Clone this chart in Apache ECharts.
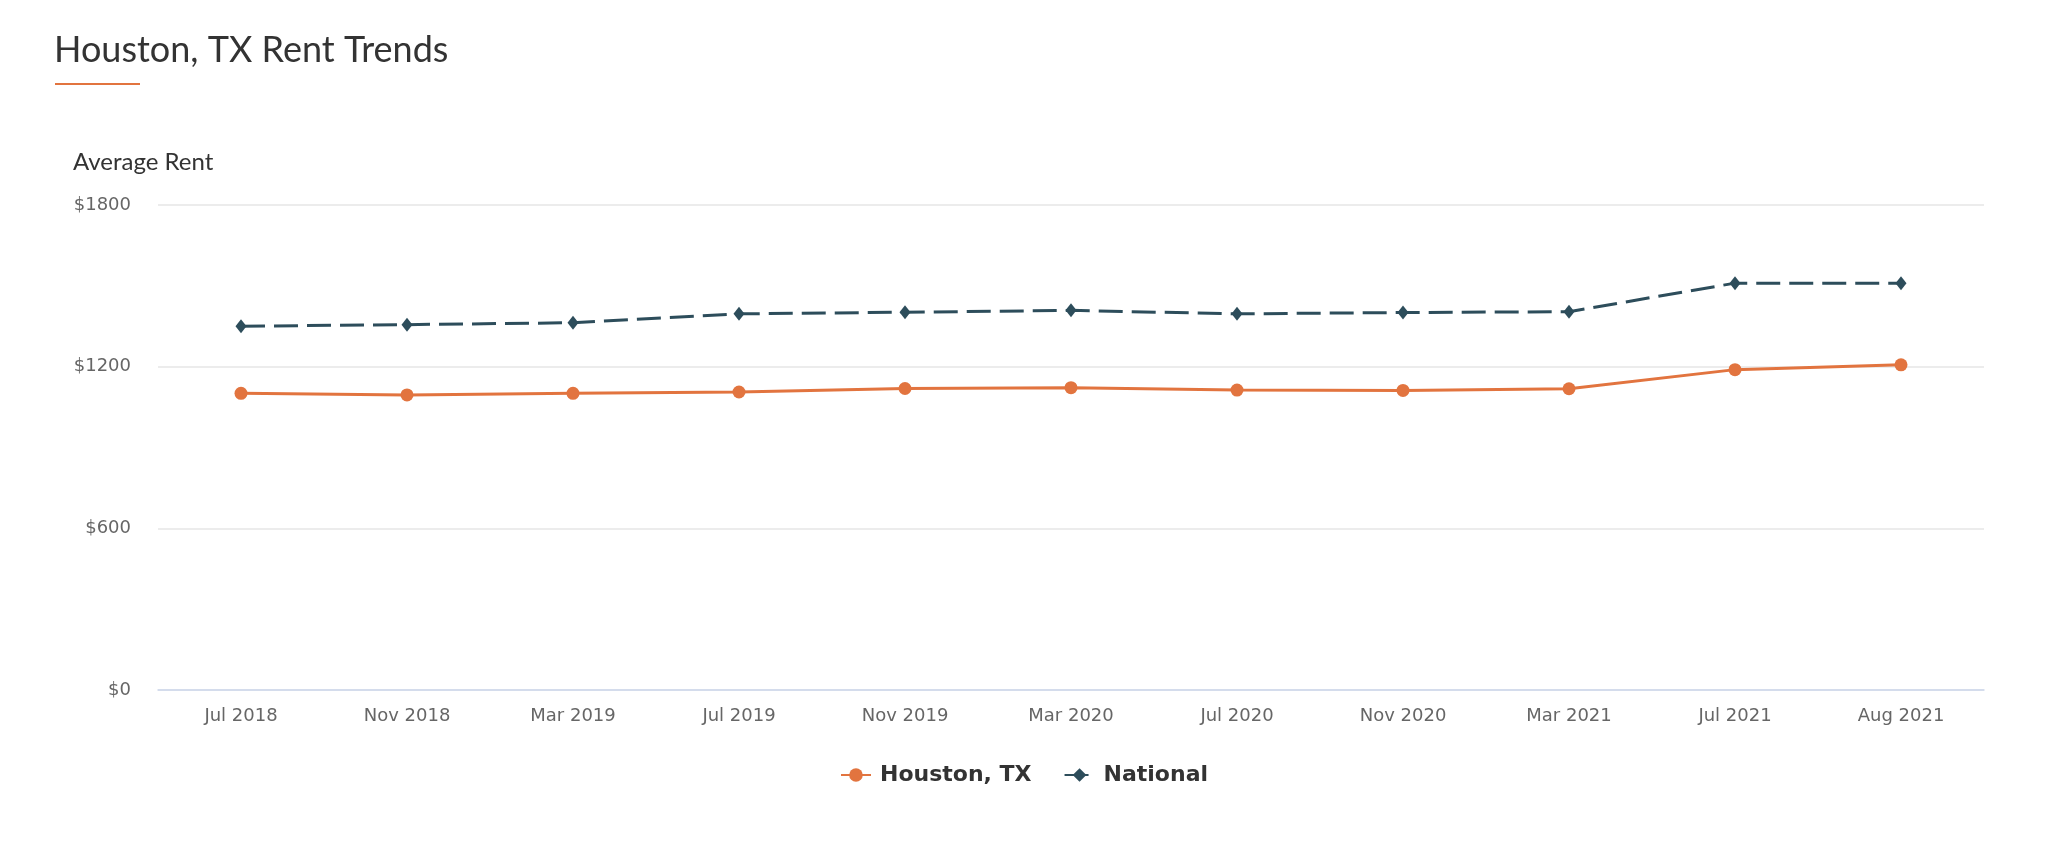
<!DOCTYPE html>
<html>
<head>
<meta charset="utf-8">
<title>Houston, TX Rent Trends</title>
<script src="https://cdn.jsdelivr.net/npm/echarts@6/dist/echarts.min.js"></script>
<style>
  html, body { margin: 0; padding: 0; background: #fff; }
  #chart { width: 2048px; height: 842px; }
</style>
</head>
<body>
<div id="chart"></div>
<script>
// data
var months = ['Jul 2018', 'Nov 2018', 'Mar 2019', 'Jul 2019', 'Nov 2019', 'Mar 2020',
              'Jul 2020', 'Nov 2020', 'Mar 2021', 'Jul 2021', 'Aug 2021'];
var houston = [1101, 1095, 1101, 1106, 1119, 1122, 1113, 1112, 1118, 1189, 1207];
var national = [1350, 1356, 1363, 1396, 1402, 1409, 1396, 1401, 1404, 1510, 1510];
var yTicks = [0, 600, 1200, 1800];

var orange = '#e2743f';
var slate = '#2d4d5b';

var chart = echarts.init(document.getElementById('chart'));

var option = {
    backgroundColor: '#fff',
    animation: false,
    title: {
        text: 'Houston, TX Rent Trends',
        left: 49,
        top: 27,
        textStyle: {
            fontFamily: 'Lato',
            fontWeight: 'normal',
            fontSize: 36,
            color: '#333'
        }
    },
    graphic: [
        // orange underline under the title
        { type: 'rect', left: 55, top: 83, shape: { width: 85, height: 2 }, style: { fill: orange } },
        {
            type: 'text', left: 73, top: 150,
            style: { text: 'Average Rent', font: '24px Lato', fill: '#333' }
        }
    ],
    legend: {
        bottom: 51,
        left: 'center',
        itemWidth: 30,
        itemHeight: 17,
        itemGap: 32,
        textStyle: {
            fontFamily: 'DejaVu Sans',
            fontWeight: 'bold',
            fontSize: 22,
            color: '#333',
            padding: [0, 0, 0, 4]
        },
        data: ['Houston, TX', 'National']
    },
    grid: {
        left: 158,
        right: 64,
        top: 205,
        bottom: 152,
        containLabel: false
    },
    xAxis: {
        type: 'category',
        data: months,
        boundaryGap: true,
        axisLine: { lineStyle: { color: '#ccd6eb', width: 1.5 } },
        axisTick: { show: false },
        axisLabel: {
            margin: 17,
            fontFamily: 'DejaVu Sans',
            fontSize: 18,
            color: '#666'
        }
    },
    yAxis: {
        type: 'value',
        min: yTicks[0],
        max: yTicks[yTicks.length - 1],
        interval: yTicks[1] - yTicks[0],
        axisLine: { show: false },
        axisTick: { show: false },
        axisLabel: {
            margin: 27,
            fontFamily: 'DejaVu Sans',
            fontSize: 18,
            color: '#666',
            formatter: function (v) { return '$' + v; }
        },
        splitLine: { lineStyle: { color: '#e6e6e6', width: 1.5 } }
    },
    series: [
        {
            name: 'Houston, TX',
            type: 'line',
            data: houston,
            symbol: 'circle',
            symbolSize: 13,
            itemStyle: { color: orange },
            lineStyle: { color: orange, width: 3 }
        },
        {
            name: 'National',
            type: 'line',
            data: national,
            symbol: 'diamond',
            symbolSize: [11, 14],
            itemStyle: { color: slate },
            lineStyle: { color: slate, width: 3, type: [24, 9] }
        }
    ]
};

chart.setOption(option);
</script>
</body>
</html>
